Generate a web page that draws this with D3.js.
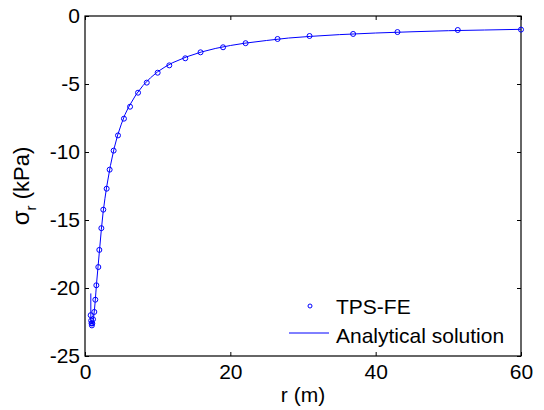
<!DOCTYPE html>
<html>
<head>
<meta charset="utf-8">
<script src="https://cdn.jsdelivr.net/npm/d3@7"></script>
<style>
	body { margin: 0; background: #fff; }
	text { font-family: "Liberation Sans", Arial, sans-serif; fill: #000; }
</style>
</head>
<body>
<script>
// TPS-FE results (r in m, sigma_r in kPa)
const feR = [0.78, 0.85, 0.9, 0.95, 1.0, 1.1, 1.28, 1.42, 1.56, 1.83, 1.97, 2.25, 2.52, 2.98, 3.39, 3.94, 4.54, 5.36, 6.2, 7.3, 8.5, 10, 11.6, 13.8, 15.9, 19, 22.1, 26.5, 30.9, 36.9, 43, 51.3, 60];
const feS = [-22.0, -22.4, -22.6, -22.75, -22.6, -22.3, -21.76, -20.86, -19.8, -18.46, -17.2, -15.6, -14.24, -12.7, -11.3, -9.9, -8.78, -7.55, -6.67, -5.64, -4.9, -4.17, -3.63, -3.11, -2.67, -2.3, -2.0, -1.69, -1.47, -1.32, -1.18, -1.03, -1.0];

// analytical solution
const anR = [0.8, 0.8, 0.9, 1.0, 1.1, 1.2, 1.3, 1.4, 1.5, 1.6, 1.8, 2.0, 2.25, 2.5, 2.75, 3.0, 3.5, 4.0, 4.5, 5.0, 5.5, 6.0, 7, 8, 9, 10, 11, 12, 14, 16, 18, 20, 22, 25, 28, 31, 35, 40, 45, 50, 55, 60];
const anS = [-20.4, -22.2, -22.65, -22.7, -22.45, -22.1, -21.6, -21.0, -20.3, -19.6, -18.4, -17.2, -15.7, -14.4, -13.4, -12.5, -11.0, -9.75, -8.75, -7.95, -7.25, -6.7, -5.8, -5.1, -4.55, -4.1, -3.75, -3.45, -3.0, -2.65, -2.38, -2.17, -2.0, -1.8, -1.62, -1.5, -1.37, -1.25, -1.16, -1.08, -1.03, -0.98];

const xTicks = [0, 20, 40, 60];
const yTicks = [0, -5, -10, -15, -20, -25];

const width = 544, height = 410;
const margin = { left: 85, top: 16, right: 23, bottom: 54 };
const iw = width - margin.left - margin.right;
const ih = height - margin.top - margin.bottom;
const fs = 21;

const svg = d3.select("body").append("svg")
	.attr("width", width)
	.attr("height", height);

const x = d3.scaleLinear().domain([0, 60]).range([margin.left, margin.left + iw]);
const y = d3.scaleLinear().domain([-25, 0]).range([margin.top + ih, margin.top]);

const g = svg.append("g");

// axes with inward ticks on all four sides
const tl = 4;
g.append("g")
	.attr("transform", `translate(0,${margin.top + ih})`)
	.call(d3.axisBottom(x).tickValues(xTicks).tickSizeInner(-tl).tickSizeOuter(0).tickPadding(8));
g.append("g")
	.attr("transform", `translate(0,${margin.top})`)
	.call(d3.axisTop(x).tickValues(xTicks).tickSizeInner(-tl).tickSizeOuter(0).tickFormat(""));
g.append("g")
	.attr("transform", `translate(${margin.left},0)`)
	.call(d3.axisLeft(y).tickValues(yTicks).tickSizeInner(-tl).tickSizeOuter(0).tickPadding(5).tickFormat(d3.format("d")));
g.append("g")
	.attr("transform", `translate(${margin.left + iw},0)`)
	.call(d3.axisRight(y).tickValues(yTicks).tickSizeInner(-tl).tickSizeOuter(0).tickFormat(""));

g.selectAll(".domain").remove();
g.selectAll(".tick line").attr("stroke", "#000");
g.selectAll(".tick text")
	.attr("font-size", fs)
	.attr("font-family", "Liberation Sans, Arial, sans-serif")
	.text(function () { return this.textContent.replace("\u2212", "-"); });

// plot box
svg.append("rect")
	.attr("x", margin.left).attr("y", margin.top)
	.attr("width", iw).attr("height", ih)
	.attr("fill", "none").attr("stroke", "#000").attr("stroke-width", 1.2);

// analytical line
const line = d3.line().x(d => x(d[0])).y(d => y(d[1]));
svg.append("path")
	.datum(anR.map((r, i) => [r, anS[i]]))
	.attr("d", line)
	.attr("fill", "none")
	.attr("stroke", "#0000ff")
	.attr("stroke-width", 1);

// FE markers
svg.append("g").selectAll("circle")
	.data(feR.map((r, i) => [r, feS[i]]))
	.enter().append("circle")
	.attr("cx", d => x(d[0]))
	.attr("cy", d => y(d[1]))
	.attr("r", 2.5)
	.attr("fill", "none")
	.attr("stroke", "#0000ff")
	.attr("stroke-width", 1);

// axis labels
svg.append("text")
	.attr("x", x(30))
	.attr("y", 402)
	.attr("text-anchor", "middle")
	.attr("font-size", fs)
	.text("r (m)");

const yl = svg.append("text")
	.attr("transform", `translate(29,${margin.top + ih / 2}) rotate(-90)`)
	.attr("text-anchor", "middle")
	.attr("font-size", 22);
yl.append("tspan").attr("font-size", 24).text("σ");
yl.append("tspan").attr("font-size", 15).attr("dy", 7).text("r");
yl.append("tspan").attr("dy", -7).text("  (kPa)");

// legend
const leg = svg.append("g");
leg.append("circle")
	.attr("cx", 310).attr("cy", 306).attr("r", 2)
	.attr("fill", "none").attr("stroke", "#0000ff").attr("stroke-width", 1);
leg.append("text").attr("x", 336).attr("y", 314).attr("font-size", fs).text("TPS-FE");
leg.append("line")
	.attr("x1", 289).attr("x2", 329).attr("y1", 333).attr("y2", 333)
	.attr("stroke", "#0000ff").attr("stroke-width", 1);
leg.append("text").attr("x", 336).attr("y", 343).attr("font-size", fs).text("Analytical solution");
</script>
</body>
</html>
